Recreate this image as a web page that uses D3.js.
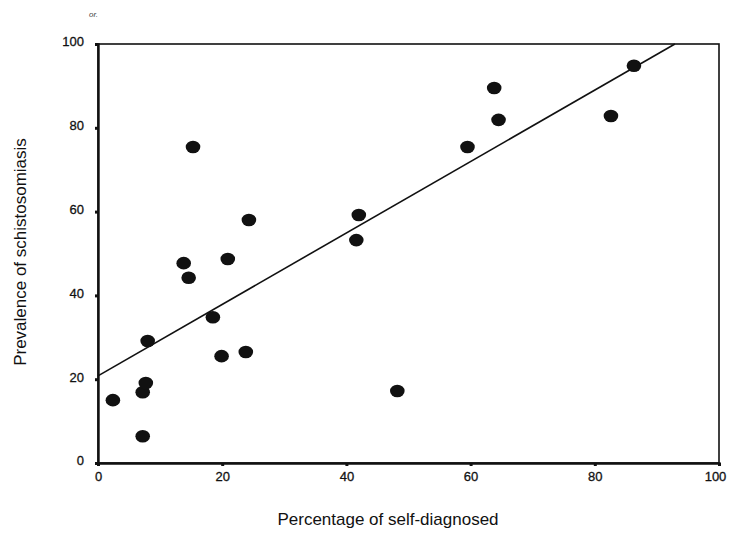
<!DOCTYPE html>
<html>
<head>
<meta charset="utf-8">
<script src="https://cdn.jsdelivr.net/npm/d3@7"></script>
<style>
  body { margin: 0; background: #fff; }
  svg { display: block; font-family: "Liberation Sans", Arial, sans-serif; }
</style>
</head>
<body>
<div id="chart"></div>
<script>
/* Data */
const selfDiagnosed = [2.4, 7.2, 7.2, 7.7, 8.0, 13.8, 14.6, 15.3, 18.5, 19.9, 20.9, 23.8, 24.3, 41.6, 42.0, 48.2, 59.5, 63.8, 64.5, 82.6, 86.3]
const prevalence    = [15.0, 6.4, 16.9, 19.1, 29.1, 47.7, 44.2, 75.4, 34.8, 25.5, 48.7, 26.5, 58.0, 53.2, 59.2, 17.2, 75.4, 89.5, 81.9, 82.8, 94.8]
const fitLine = [[0, 20.8], [92.9, 100]]
const xTicks = [0, 20, 40, 60, 80, 100]
const yTicks = [0, 20, 40, 60, 80, 100]

/* Layout constants */
const WIDTH = 729
const HEIGHT = 542
const MARGIN = {"top": 44, "right": 10, "bottom": 79, "left": 98}
const INK = "#111"

const svg = d3.select("#chart")
              .append("svg")
              .attr("width", WIDTH)
              .attr("height", HEIGHT);

const xScale = d3.scaleLinear()
                 .domain([0, 100])
                 .range([MARGIN.left, WIDTH - MARGIN.right]);
const yScale = d3.scaleLinear()
                 .domain([0, 100])
                 .range([HEIGHT - MARGIN.bottom, MARGIN.top]);

/* Frame: thin top and right borders */
svg.append("rect")
   .attr("x", xScale(0))
   .attr("y", yScale(100))
   .attr("width", xScale(100) - xScale(0))
   .attr("height", yScale(0) - yScale(100))
   .attr("fill", "none")
   .attr("stroke", INK)
   .attr("stroke-width", 1.6);

/* Axes */
const xAxis = d3.axisBottom(xScale).tickValues(xTicks).tickSize(3).tickFormat(d3.format("d"));
const yAxis = d3.axisLeft(yScale).tickValues(yTicks).tickSize(3).tickFormat(d3.format("d"));

const gx = svg.append("g")
              .attr("transform", "translate(0, " + yScale(0) + ")")
              .call(xAxis);
const gy = svg.append("g")
              .attr("transform", "translate(" + xScale(0) + ", 0)")
              .call(yAxis);

[gx, gy].forEach((g) => {
  g.select(".domain").attr("stroke", INK).attr("stroke-width", 2.4);
  g.selectAll(".tick line").attr("stroke", INK).attr("stroke-width", 3);
  g.selectAll(".tick text")
   .attr("fill", INK)
   .attr("stroke", INK)
   .attr("stroke-width", 0.3)
   .style("font-size", "13px");
});
gx.selectAll(".tick text").attr("dy", "0.9em").attr("y", 6);
// keep the last label inside the page
gx.selectAll(".tick text").filter((d) => d === 100).attr("dx", -4);
gy.selectAll(".tick text").attr("x", -14).attr("dy", "0.15em");

/* Regression line */
svg.append("line")
   .attr("x1", xScale(fitLine[0][0]))
   .attr("y1", yScale(fitLine[0][1]))
   .attr("x2", xScale(fitLine[1][0]))
   .attr("y2", yScale(fitLine[1][1]))
   .attr("stroke", INK)
   .attr("stroke-width", 1.6);

/* Points */
svg.selectAll("ellipse.dot")
   .data(d3.zip(selfDiagnosed, prevalence))
   .enter()
   .append("ellipse")
   .attr("class", "dot")
   .attr("cx", (d) => xScale(d[0]))
   .attr("cy", (d) => yScale(d[1]))
   .attr("rx", 7.3)
   .attr("ry", 6.3)
   .attr("fill", INK);

/* Axis titles */
svg.append("text")
   .attr("x", 388)
   .attr("y", 525)
   .attr("text-anchor", "middle")
   .attr("fill", INK)
   .style("font-size", "17px")
   .text("Percentage of self-diagnosed");
svg.append("text")
   .attr("transform", "translate(26, 252) rotate(-90)")
   .attr("text-anchor", "middle")
   .attr("fill", INK)
   .style("font-size", "17px")
   .text("Prevalence of schistosomiasis");

/* Stray mark at the top */
svg.append("text")
   .attr("x", 89)
   .attr("y", 17)
   .attr("fill", "#444")
   .style("font-size", "8px")
   .style("font-style", "italic")
   .text("or.");
</script>
</body>
</html>
